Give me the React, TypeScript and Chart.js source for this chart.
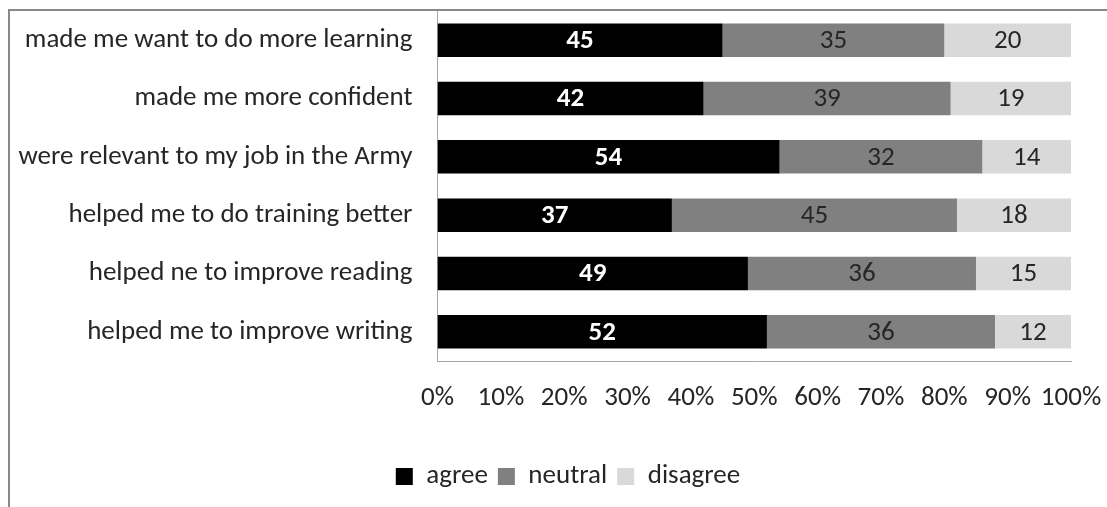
import React, { useEffect, useRef } from "react";
import { Chart, registerables } from "chart.js";

Chart.register(...registerables);

const categories = [
  "made me want to do more learning",
  "made me more confident",
  "were relevant to my job in the Army",
  "helped me to do training better",
  "helped ne to improve reading",
  "helped me to improve writing",
];
const agree = [45, 42, 54, 37, 49, 52];
const neutral = [35, 39, 32, 45, 36, 36];
const disagree = [20, 19, 14, 18, 15, 12];
const seriesNames = ["agree", "neutral", "disagree"];
const seriesColors = ["#000000", "#808080", "#d9d9d9"];
const labelColors = ["#ffffff", "#262626", "#262626"];
const labelWeights = ["bold", "normal", "normal"];

const FONT = 'Carlito, Calibri, Lato, "Open Sans", sans-serif';
const FS = 27;

const labelPlugin = {
  id: "barLabels",
  afterDatasetsDraw(chart: any) {
    const ctx = chart.ctx;
    ctx.save();
    chart.data.datasets.forEach((ds: any, di: number) => {
      const meta = chart.getDatasetMeta(di);
      meta.data.forEach((el: any, i: number) => {
        const p = el.getCenterPoint();
        ctx.fillStyle = labelColors[di];
        ctx.font = `${labelWeights[di]} ${FS}px ${FONT}`;
        ctx.textAlign = "center";
        ctx.textBaseline = "middle";
        ctx.fillText(String(ds.data[i]), p.x, p.y + 1);
      });
    });
    ctx.restore();
  },
};

export default function App() {
  const ref = useRef<HTMLCanvasElement | null>(null);
  useEffect(() => {
    if (!ref.current) return;
    const chart = new Chart(ref.current, {
      type: "bar",
      data: {
        labels: categories,
        datasets: [agree, neutral, disagree].map((d, i) => ({
          label: seriesNames[i],
          data: d,
          backgroundColor: seriesColors[i],
          borderWidth: 0,
          barPercentage: 0.574,
          categoryPercentage: 1,
        })),
      },
      plugins: [labelPlugin],
      options: {
        indexAxis: "y",
        animation: false,
        responsive: false,
        maintainAspectRatio: false,
        layout: { padding: { left: 0, right: 0, top: 0, bottom: 5 } },
        scales: {
          x: {
            stacked: true,
            min: 0,
            max: 100,
            grid: { display: false, drawTicks: false },
            border: { display: true, color: "#a6a6a6", width: 1 },
            ticks: {
              stepSize: 10,
              padding: 21,
              color: "#262626",
              font: { family: FONT, size: FS },
              maxRotation: 0,
              autoSkip: false,
              callback: (v: any) => `${v}%`,
            },
            afterFit: (s: any) => {
              s.height = 92;
              s.paddingRight = 55;
            },
          },
          y: {
            stacked: true,
            grid: { display: false, drawTicks: false },
            border: { display: true, color: "#a6a6a6", width: 1 },
            ticks: {
              padding: 25,
              color: "#262626",
              font: { family: FONT, size: FS },
            },
            afterFit: (s: any) => {
              s.width = 427.5;
              s.paddingTop = 0;
              s.paddingBottom = 0;
            },
          },
        },
        plugins: {
          legend: {
            position: "bottom",
            labels: {
              color: "#262626",
              font: { family: FONT, size: FS },
              boxWidth: 17,
              boxHeight: 17,
              padding: 10,
            },
          },
          tooltip: { enabled: false },
        },
      },
    });
    return () => chart.destroy();
  }, []);

  return (
    <div style={{ position: "fixed", left: 0, top: 0, width: 1107, height: 507, overflow: "hidden", background: "#fff" }}>
      <div
        style={{
          position: "absolute",
          left: 8,
          top: 9,
          width: 1124,
          height: 540,
          border: "2px solid #898989",
          boxSizing: "border-box",
        }}
      >
        <canvas ref={ref} width={1116} height={494} style={{ display: "block", width: 1116, height: 494 }} />
      </div>
    </div>
  );
}
